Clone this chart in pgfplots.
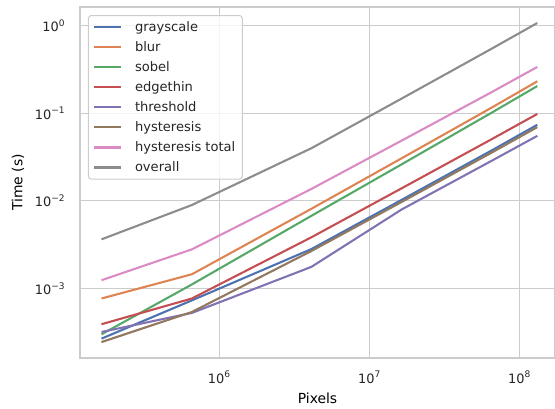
\documentclass[border=0pt]{standalone}
\usepackage{fontspec}
\setmainfont{DejaVu Sans}
\usepackage{pgfplots}
\pgfplotsset{compat=1.18}

\definecolor{sbblue}{HTML}{4C72B0}
\definecolor{sborange}{HTML}{DD8452}
\definecolor{sbgreen}{HTML}{55A868}
\definecolor{sbred}{HTML}{C44E52}
\definecolor{sbpurple}{HTML}{8172B3}
\definecolor{sbbrown}{HTML}{937860}
\definecolor{sbpink}{HTML}{DA8BC3}
\definecolor{sbgray}{HTML}{8C8C8C}
\definecolor{txt}{HTML}{262626}
\definecolor{gridc}{HTML}{CCCCCC}

\begin{document}
\begin{tikzpicture}
\begin{axis}[
  scale only axis,
  width=342pt, height=252.7pt,
  xmode=log, ymode=log,
  xmin=1.178e5, xmax=1.72e8, ymin=1.607e-4, ymax=1.63,
  xtick={1e6,1e7,1e8},
  xticklabels={10\textsuperscript{6},10\textsuperscript{7},10\textsuperscript{8}},
  ytick={1e-3,1e-2,1e-1,1},
  yticklabels={10\textsuperscript{−3},10\textsuperscript{−2},10\textsuperscript{−1},10\textsuperscript{0}},
  xminorticks=false, yminorticks=false,
  major tick length=0pt,
  grid=major,
  major grid style={gridc, line width=0.72pt},
  axis line style={gridc, line width=0.9pt},
  tick label style={font=\fontsize{9.3}{10}\selectfont, text=txt},
  xticklabel style={yshift=-6pt},
  yticklabel style={xshift=-7pt},
  label style={font=\fontsize{9}{10}\selectfont, text=txt},
  xlabel={Pixels},
  ylabel={Time (s)},
  every axis x label/.style={at={(rel axis cs:0.5,-0.114)}, anchor=center},
  every axis y label/.style={at={(rel axis cs:-0.1305,0.5)}, rotate=90, anchor=center},
  every axis plot/.append style={line width=1.5pt},
  legend style={
    at={(rel axis cs:0.0168,0.977)}, anchor=north west,
    font=\fontsize{9.4}{10}\selectfont, text=txt,
    draw=gridc, line width=0.72pt, rounded corners=2pt,
    fill=white, fill opacity=0.8, text opacity=1,
    row sep=1.8pt, inner xsep=3pt, inner ysep=2pt,
  },
  legend cell align=left,
  legend image code/.code={\draw[#1] (0pt,0pt) -- (19.5pt,0pt); \path (27pt,0pt);},
]
\addplot[sbblue] coordinates {(163840,2.67e-4) (655360,7.3e-4) (4096000,2.81e-3) (16384000,1.026e-2) (65536000,3.78e-2) (131072000,7.37e-2)};
\addlegendentry{grayscale}
\addplot[sborange] coordinates {(163840,7.67e-4) (655360,1.45e-3) (4096000,8.1e-3) (16384000,3.06e-2) (65536000,0.1165) (131072000,0.231)};
\addlegendentry{blur}
\addplot[sbgreen] coordinates {(163840,2.99e-4) (655360,1.11e-3) (4096000,6.73e-3) (16384000,2.61e-2) (65536000,0.102) (131072000,0.204)};
\addlegendentry{sobel}
\addplot[sbred] coordinates {(163840,3.9e-4) (655360,7.67e-4) (4096000,3.83e-3) (16384000,1.39e-2) (65536000,5.08e-2) (131072000,9.8e-2)};
\addlegendentry{edgethin}
\addplot[sbpurple] coordinates {(163840,3.18e-4) (655360,5.25e-4) (4096000,1.76e-3) (16384000,7.97e-3) (65536000,2.88e-2) (131072000,5.51e-2)};
\addlegendentry{threshold}
\addplot[sbbrown] coordinates {(163840,2.44e-4) (655360,5.38e-4) (4096000,2.67e-3) (16384000,9.71e-3) (65536000,3.57e-2) (131072000,6.93e-2)};
\addlegendentry{hysteresis}
\addplot[sbpink] coordinates {(163840,1.24e-3) (655360,2.79e-3) (4096000,1.365e-2) (16384000,4.87e-2) (65536000,0.175) (131072000,0.337)};
\addlegendentry{hysteresis total}
\addplot[sbgray] coordinates {(163840,3.63e-3) (655360,8.95e-3) (4096000,3.98e-2) (16384000,0.147) (65536000,0.548) (131072000,1.07)};
\addlegendentry{overall}
\coordinate (bbll) at (rel axis cs:-0.1684,-0.1453);
\coordinate (bbur) at (rel axis cs:1,1.0199);
\end{axis}
\pgfresetboundingbox
\path (bbll) rectangle (bbur);
\end{tikzpicture}
\end{document}
